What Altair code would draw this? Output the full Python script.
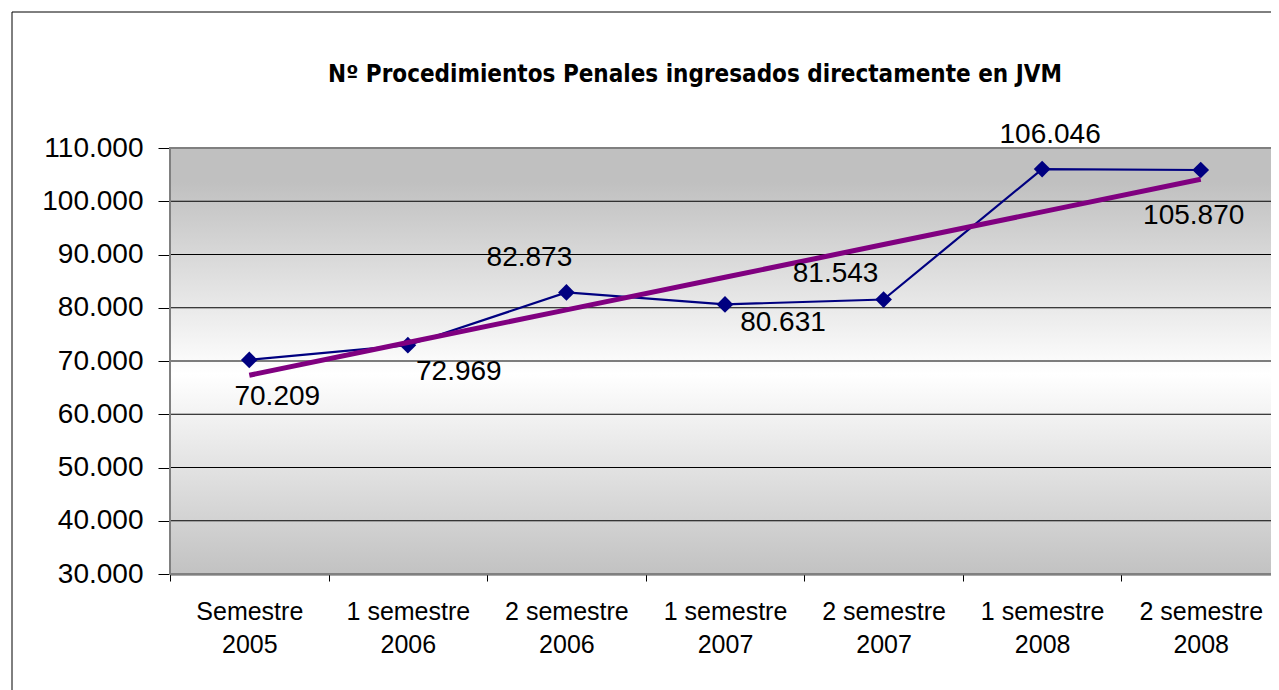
import altair as alt
import pandas as pd

categories = ["Semestre 2005", "1 semestre 2006", "2 semestre 2006", "1 semestre 2007",
              "2 semestre 2007", "1 semestre 2008", "2 semestre 2008"]
values = [70209, 72969, 82873, 80631, 81543, 106046, 105870]
y_ticks = [30000, 40000, 50000, 60000, 70000, 80000, 90000, 100000, 110000]
title_text = "Nº Procedimientos Penales ingresados directamente en JVM"

# label offsets (style): dx, dy in pixels relative to the point
label_offsets = {
    "Semestre 2005": (28, 37),
    "1 semestre 2006": (51, 27),
    "2 semestre 2006": (-37, -34),
    "1 semestre 2007": (58, 19),
    "2 semestre 2007": (-48, -26),
    "1 semestre 2008": (8, -34),
    "2 semestre 2008": (-7, 46),
}

# layout (pixels)
PL, PT = 162, 140          # plot origin inside the svg (page margin 8 adds to it)
VIEW_W, H = 1101, 426      # visible part of the plot area
RANGE_W = 1110             # full plot width (continues past the window edge)
FONT = "Liberation Sans"

df = pd.DataFrame({"cat": categories, "val": values, "idx": list(range(len(categories)))})
grid_df = pd.DataFrame({"v": y_ticks})
one = pd.DataFrame({"a": [0]})

fmt = "replace(format(datum.value, ','), ',', '.')"

x_axis = alt.Axis(
    title=None, labelAngle=0,
    labelExpr=("datum.value == null ? '' : "
               "[replace(datum.value, ' ' + peek(split(datum.value, ' ')), ''), peek(split(datum.value, ' '))]"),
    labelFont=FONT, labelFontSize=25, labelColor="black", labelPadding=18, labelLineHeight=33,
    tickBand="extent", tickColor="black", tickSize=7, domainColor="#555555", domainWidth=2, grid=False,
)
y_axis = alt.Axis(
    title=None, values=y_ticks, labelExpr=fmt, labelFont=FONT, labelFontSize=28, labelColor="black",
    labelPadding=15, tickColor="black", tickSize=12, domainColor="#555555", domainWidth=2, grid=False,
)
x_scale = alt.Scale(type="band", domain=categories, range=[0, RANGE_W], paddingInner=0, paddingOuter=0)
y_scale = alt.Scale(domain=[30000, 110000], nice=False, zero=False)


def X():
    return alt.X("cat:N", scale=x_scale, axis=x_axis)


def Y(field):
    return alt.Y(field, scale=y_scale, axis=y_axis)


background = alt.Chart(one).mark_rect(
    fill=alt.Gradient(
        gradient="linear", x1=0, y1=0, x2=0, y2=1,
        stops=[
            alt.GradientStop(offset=0, color="#c0c0c0"),
            alt.GradientStop(offset=0.08, color="#c0c0c0"),
            alt.GradientStop(offset=0.53, color="#ffffff"),
            alt.GradientStop(offset=1, color="#c2c2c2"),
        ],
    )
).encode(x=alt.value(0), x2=alt.value(RANGE_W), y=alt.value(0), y2=alt.value(H))

grid = alt.Chart(grid_df).mark_rule(color="black", strokeWidth=1).encode(y=Y("v:Q"))

border = alt.Chart(one).mark_rect(fillOpacity=0, stroke="#808080", strokeWidth=2).encode(
    x=alt.value(0), x2=alt.value(RANGE_W), y=alt.value(0), y2=alt.value(H))

trend = alt.Chart(df).transform_joinaggregate(
    mx="mean(idx)", my="mean(val)"
).transform_calculate(
    dxy="(datum.idx - datum.mx) * (datum.val - datum.my)",
    dxx="(datum.idx - datum.mx) * (datum.idx - datum.mx)",
).transform_joinaggregate(
    sxy="sum(dxy)", sxx="sum(dxx)"
).transform_calculate(
    fit="datum.my + datum.sxy / datum.sxx * (datum.idx - datum.mx)"
).mark_line(color="#800080", strokeWidth=5, strokeCap="butt").encode(x=X(), y=Y("fit:Q"))

line = alt.Chart(df).mark_line(color="#000080", strokeWidth=2.2).encode(x=X(), y=Y("val:Q"))
points = alt.Chart(df).mark_point(shape="diamond", filled=True, color="#000080", size=280, opacity=1).encode(
    x=X(), y=Y("val:Q"))

label_layers = []
for c in categories:
    dx, dy = label_offsets[c]
    label_layers.append(
        alt.Chart(df).transform_filter(alt.datum.cat == c).transform_calculate(
            lab="replace(format(datum.val, ','), ',', '.')"
        ).mark_text(font=FONT, fontSize=28, color="black", dx=dx, dy=dy, baseline="middle", align="center").encode(
            x=X(), y=Y("val:Q"), text="lab:N")
    )

title = alt.Chart(one).mark_text(
    text=title_text, font="DejaVu Sans Condensed", fontSize=24,
    fontWeight="bold", color="black", align="center", baseline="middle"
).encode(x=alt.value(695 - 170), y=alt.value(75 - 148))

outer = alt.Chart(one).mark_rect(fillOpacity=0, stroke="black", strokeWidth=1).encode(
    x=alt.value(-158), x2=alt.value(RANGE_W + 300), y=alt.value(-136), y2=alt.value(H + 300))

chart = alt.layer(
    background, grid, border, line, points, trend, *label_layers, title, outer
).properties(
    width=VIEW_W, height=H,
    padding={"left": PL, "top": PT, "right": 0, "bottom": 682 - PT - H},
    autosize=alt.AutoSizeParams(type="none"),
    background="white",
).configure_view(stroke=None)

chart.save("out.html", embed_options={"renderer": "svg", "actions": False})
